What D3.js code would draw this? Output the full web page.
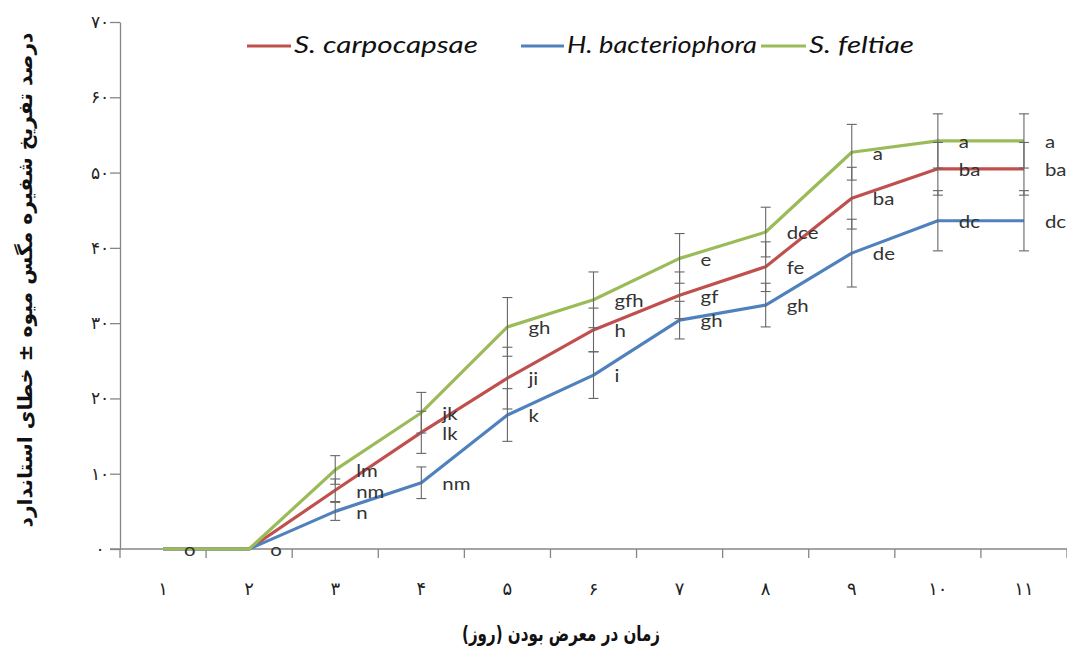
<!DOCTYPE html>
<html>
<head>
<meta charset="utf-8">
<script src="https://cdn.jsdelivr.net/npm/d3@7"></script>
<style>
  html, body { margin: 0; padding: 0; background: #ffffff; }
  svg { display: block; }
</style>
</head>
<body>
<svg id="chart" width="1067" height="652"></svg>
<script>
// ---------------- data ----------------
const days = ["۱","۲","۳","۴","۵","۶","۷","۸","۹","۱۰","۱۱"];
const yTickValues = [0,10,20,30,40,50,60,70];
const yTickLabels = ["۰","۱۰","۲۰","۳۰","۴۰","۵۰","۶۰","۷۰"];
const seriesNames = ["S. carpocapsae","H. bacteriophora","S. feltiae"];
const seriesColors = ["#c0504d","#4f81bd","#9bbb59"];

const carpocapsae   = [0,0,7.8,15.5,22.7,29.1,33.7,37.5,46.6,50.5,50.5];
const bacteriophora = [0,0,5.0,8.8,17.8,23.1,30.4,32.4,39.3,43.6,43.6];
const feltiae       = [0,0,10.5,18.1,29.5,33.1,38.6,42.1,52.7,54.2,54.2];

const carpocapsaeErr   = [0,0,1.5,2.8,4.1,2.9,3.1,3.3,4.1,3.5,3.5];
const bacteriophoraErr = [0,0,1.2,2.1,3.5,3.1,2.5,2.9,4.5,4.0,4.0];
const feltiaeErr       = [0,0,1.9,2.7,3.9,3.7,3.3,3.3,3.7,3.6,3.6];

const carpocapsaeLetters   = ["","","nm","lk","ji","h","gf","fe","ba","ba","ba"];
const bacteriophoraLetters = ["","","n","nm","k","i","gh","gh","de","dc","dc"];
const feltiaeLetters       = ["o","o","lm","jk","gh","gfh","e","dce","a","a","a"];

const xTitle = "زمان در معرض بودن (روز)";
const yTitle = "درصد تفریخ شفیره مگس میوه ± خطای استاندارد";

// ---------------- setup ----------------
const values  = [carpocapsae, bacteriophora, feltiae];
const errors  = [carpocapsaeErr, bacteriophoraErr, feltiaeErr];
const letters = [carpocapsaeLetters, bacteriophoraLetters, feltiaeLetters];

const svg = d3.select("#chart");
const mLeft = 120, mRight = 1067, mTop = 22, mBottom = 549;
const axisColor = "#868686";

const x = d3.scaleBand().domain(days).range([mLeft, mRight]).padding(0);
const y = d3.scaleLinear().domain([0, 70]).range([mBottom, mTop]);
const cx = d => x(d) + x.bandwidth() / 2;

// ---------------- axes ----------------
const yAxis = d3.axisLeft(y).tickValues(yTickValues)
  .tickFormat((d, i) => yTickLabels[i]).tickSize(10).tickSizeOuter(0);
const gy = svg.append("g").attr("transform", `translate(${mLeft},0)`).call(yAxis);
gy.select(".domain").attr("stroke", axisColor).attr("stroke-width", 1.3);
gy.selectAll(".tick line").attr("stroke", axisColor).attr("stroke-width", 1.3);
gy.selectAll(".tick text").attr("x", -20).attr("text-anchor", "middle")
  .style("font-family", "DejaVu Sans").style("font-size", "17px").attr("fill", "#222");

// x axis: ticks at band boundaries
const bounds = days.map(d => x(d)).concat([mRight]);
const gx = svg.append("g");
gx.append("line").attr("x1", mLeft - 10).attr("x2", mRight).attr("y1", mBottom).attr("y2", mBottom)
  .attr("stroke", axisColor).attr("stroke-width", 1.3);
gx.selectAll("line.tk").data(bounds).join("line").attr("class", "tk")
  .attr("x1", d => d).attr("x2", d => d).attr("y1", mBottom).attr("y2", mBottom + 9)
  .attr("stroke", axisColor).attr("stroke-width", 1.3);
gx.selectAll("text").data(days).join("text")
  .attr("x", d => cx(d)).attr("y", 590).attr("text-anchor", "middle")
  .attr("dominant-baseline", "middle")
  .style("font-family", "DejaVu Sans").style("font-size", "18px").attr("fill", "#222")
  .text(d => d);

// ---------------- lines ----------------
const line = d3.line().x((d, i) => cx(days[i])).y(d => y(d));
values.forEach((vals, s) => {
  svg.append("path").datum(vals).attr("d", line)
    .attr("fill", "none").attr("stroke", seriesColors[s]).attr("stroke-width", 3.2)
    .attr("stroke-linejoin", "round");
});

// ---------------- error bars ----------------
const eb = svg.append("g").attr("stroke", "#666").attr("stroke-width", 1.1);
values.forEach((vals, s) => {
  vals.forEach((v, i) => {
    const e = errors[s][i];
    if (!e) return;
    const xc = cx(days[i]);
    eb.append("line").attr("x1", xc).attr("x2", xc).attr("y1", y(v + e)).attr("y2", y(v - e));
    [v + e, v - e].forEach(w => {
      eb.append("line").attr("x1", xc - 5).attr("x2", xc + 5).attr("y1", y(w)).attr("y2", y(w));
    });
  });
});

// ---------------- letters ----------------
const lg = svg.append("g");
values.forEach((vals, s) => {
  vals.forEach((v, i) => {
    const t = letters[s][i];
    if (!t) return;
    lg.append("text")
      .attr("transform", `translate(${cx(days[i]) + 21},${y(v) + 3}) scale(1.2,1)`)
      .attr("dominant-baseline", "middle")
      .style("font-family", "Lato").style("font-size", "17px").attr("fill", "#333")
      .text(t);
  });
});

// ---------------- legend ----------------
const legendItems = [
  {x1: 247, x2: 291, tx: 294, w: 184},
  {x1: 521, x2: 564, tx: 567, w: 190},
  {x1: 761, x2: 806, tx: 809, w: 105}
];
const leg = svg.append("g");
seriesNames.forEach((name, s) => {
  const it = legendItems[s];
  leg.append("line").attr("x1", it.x1).attr("x2", it.x2).attr("y1", 46).attr("y2", 46)
    .attr("stroke", seriesColors[s]).attr("stroke-width", 3.2);
  leg.append("text").attr("x", it.tx).attr("y", 47).attr("dominant-baseline", "middle")
    .attr("textLength", it.w).attr("lengthAdjust", "spacingAndGlyphs")
    .style("font-family", "Lato").style("font-style", "italic").style("font-size", "23px")
    .attr("fill", "#111").text(name);
});

// ---------------- titles ----------------
svg.append("text").attr("x", 561).attr("y", 635).attr("text-anchor", "middle")
  .attr("dominant-baseline", "middle").attr("direction", "rtl")
  .attr("textLength", 198).attr("lengthAdjust", "spacingAndGlyphs")
  .style("font-family", "DejaVu Sans").style("font-weight", "bold").style("font-size", "21px")
  .attr("fill", "#111").text(xTitle);

svg.append("text").attr("transform", "translate(26,280) rotate(-90)")
  .attr("text-anchor", "middle").attr("dominant-baseline", "middle").attr("direction", "rtl")
  .attr("textLength", 495).attr("lengthAdjust", "spacingAndGlyphs")
  .style("font-family", "DejaVu Sans").style("font-weight", "bold").style("font-size", "20px")
  .attr("fill", "#111").text(yTitle);
</script>
</body>
</html>
